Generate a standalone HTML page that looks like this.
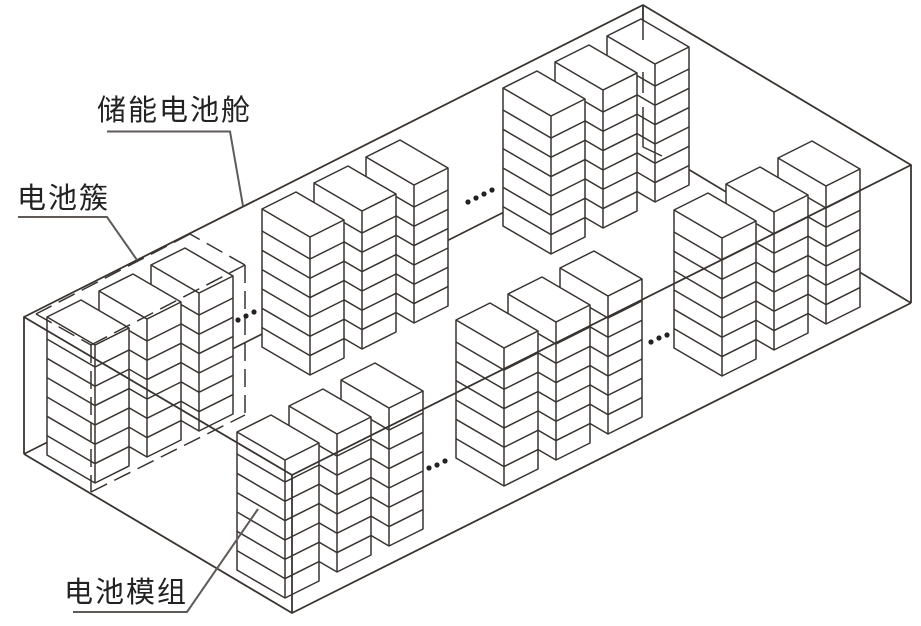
<!DOCTYPE html>
<html>
<head>
<meta charset="utf-8">
<style>
  html,body{margin:0;padding:0;background:#fff;}
  svg{display:block;}
  text{font-family:"Liberation Sans","Noto Sans CJK SC","WenQuanYi Zen Hei",sans-serif;font-size:29px;fill:#222;letter-spacing:2px;}
</style>
</head>
<body>
<svg width="921" height="626" viewBox="0 0 921 626" xmlns="http://www.w3.org/2000/svg">
  <defs>
    <g id="r">
      <path d="M0,0 L34,-17 L82,11 L82,149 L48,166 L0,138 Z" fill="#fff" stroke="#3a3431" stroke-width="1.5" stroke-linejoin="round"/>
      <path d="M0,0 L48,28 L82,11 M48,28 L48,166
               M0,22 L48,50 L82,33
               M0,41.3 L48,69.3 L82,52.3
               M0,60.6 L48,88.6 L82,71.6
               M0,80 L48,108 L82,91
               M0,99.3 L48,127.3 L82,110.3
               M0,118.6 L48,146.6 L82,129.6"
            fill="none" stroke="#3a3431" stroke-width="1.5"/>
    </g>
  </defs>

  <!-- hidden container edges (behind racks) -->
  <g stroke="#3a3431" stroke-width="1.7" fill="none">
    <line x1="24" y1="454" x2="643" y2="142"/>
    <line x1="643" y1="142" x2="911" y2="303"/>
    <line x1="643" y1="5" x2="643" y2="142"/>
  </g>

  <!-- back row -->
  <use href="#r" x="607" y="36"/>
  <use href="#r" x="555" y="62"/>
  <use href="#r" x="503" y="88"/>

  <use href="#r" x="366" y="157"/>
  <use href="#r" x="314" y="183"/>
  <use href="#r" x="262" y="209"/>

  <use href="#r" x="151" y="265"/>
  <use href="#r" x="99" y="291"/>
  <use href="#r" x="47" y="317"/>

  <!-- front row -->
  <use href="#r" x="778" y="158"/>
  <use href="#r" x="726" y="184"/>
  <use href="#r" x="674" y="210"/>

  <use href="#r" x="560" y="268"/>
  <use href="#r" x="508" y="294"/>
  <use href="#r" x="456" y="320"/>

  <use href="#r" x="341" y="380"/>
  <use href="#r" x="289" y="406"/>
  <use href="#r" x="237" y="432"/>

  <!-- container visible edges -->
  <g stroke="#3a3431" stroke-width="1.8" fill="none" stroke-linejoin="round">
    <polygon points="24,317 643,5 911,165 292,475"/>
    <line x1="24" y1="317" x2="24" y2="454"/>
    <line x1="292" y1="475" x2="292" y2="613"/>
    <line x1="911" y1="165" x2="911" y2="303"/>
    <polyline points="24,454 292,613 911,303"/>
  </g>

  <!-- back vertical partially shown -->
  <g stroke="#3a3431" stroke-width="1.5" fill="none">
    <line x1="643" y1="5" x2="643" y2="40"/>
    <line x1="643" y1="72" x2="643" y2="93"/>
    <line x1="643" y1="107" x2="643" y2="147"/>
    <line x1="643" y1="147" x2="662" y2="156"/>
  </g>

  <!-- cluster dashed box -->
  <g stroke="#3a3431" stroke-width="1.5" fill="none" stroke-dasharray="18 8">
    <line x1="36" y1="314" x2="91" y2="345"/>
    <line x1="91" y1="345" x2="245" y2="265"/>
    <line x1="245" y1="265" x2="190" y2="234"/>
    <line x1="190" y1="234" x2="36" y2="314"/>
    <line x1="91" y1="345" x2="91" y2="492"/>
    <line x1="245" y1="265" x2="245" y2="415"/>
    <line x1="91" y1="492" x2="245" y2="415"/>
  </g>

  <!-- dots -->
  <g fill="#222">
    <circle cx="238" cy="320" r="2.6"/>
    <circle cx="246" cy="316" r="2.6"/>
    <circle cx="254" cy="312" r="2.6"/>

    <circle cx="468" cy="202" r="2.6"/>
    <circle cx="476" cy="198" r="2.6"/>
    <circle cx="484" cy="194" r="2.6"/>
    <circle cx="492" cy="190" r="2.6"/>

    <circle cx="429" cy="468" r="2.6"/>
    <circle cx="437" cy="465" r="2.6"/>
    <circle cx="445" cy="461" r="2.6"/>

    <circle cx="651" cy="342" r="2.6"/>
    <circle cx="659" cy="338" r="2.6"/>
    <circle cx="667" cy="335" r="2.6"/>
  </g>

  <!-- leaders -->
  <g stroke="#5e5a58" stroke-width="2" fill="none">
    <polyline points="107,131.5 230,131.5 243,206"/>
    <polyline points="18,217 107,217 137,260"/>
    <polyline points="73,612 187,612 258,509"/>
  </g>

  <!-- labels -->
  <text x="97" y="120">储能电池舱</text>
  <text x="17" y="208">电池簇</text>
  <text x="64" y="602">电池模组</text>
</svg>
</body>
</html>
